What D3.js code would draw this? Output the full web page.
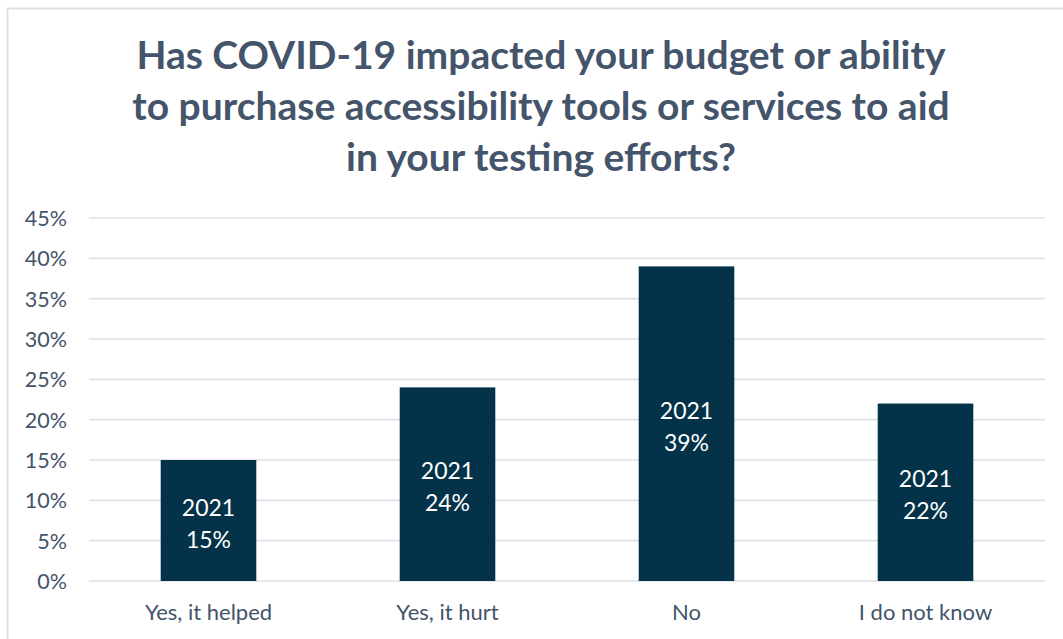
<!DOCTYPE html>
<html>
<head>
<meta charset="utf-8">
<script src="https://cdn.jsdelivr.net/npm/d3@7"></script>
<style>
  html, body { margin: 0; padding: 0; background: #ffffff; }
  svg { display: block; }
</style>
</head>
<body>
<svg id="chart" width="1063" height="639"></svg>
<script>
// Survey responses (share of respondents, 2021)
const categories = ["Yes, it helped", "Yes, it hurt", "No", "I do not know"];
const values2021 = [0.15, 0.24, 0.39, 0.22];
const seriesName = "2021";
const yTicks = [0, 0.05, 0.10, 0.15, 0.20, 0.25, 0.30, 0.35, 0.40, 0.45];
const titleLines = [
  "Has COVID-19 impacted your budget or ability",
  "to purchase accessibility tools or services to aid",
  "in your testing efforts?"
];

const svg = d3.select("#chart");
const W = 1063, H = 639;
const textColor = "#44546A";
const gridColor = "#DDE1E7";
const barColor = "#033249";
const font = "Lato, 'Open Sans', sans-serif";

// chart frame
svg.append("rect")
  .attr("x", 7.5).attr("y", 8.5)
  .attr("width", W + 20).attr("height", H + 20)
  .attr("fill", "#ffffff")
  .attr("stroke", gridColor).attr("stroke-width", 2);

// title
const title = svg.append("text")
  .attr("text-anchor", "middle")
  .attr("font-family", font)
  .attr("font-weight", 700)
  .attr("font-size", 39)
  .attr("fill", textColor);
titleLines.forEach((line, i) => {
  title.append("tspan")
    .attr("x", 541)
    .attr("y", 69 + i * 51)
    .text(line);
});

const plot = { left: 89, right: 1045, top: 218, bottom: 581 };

const x = d3.scaleBand()
  .domain(categories)
  .range([plot.left, plot.right])
  .paddingInner(0.6)
  .paddingOuter(0.3);

const y = d3.scaleLinear()
  .domain([0, 0.45])
  .range([plot.bottom, plot.top]);

// gridlines
svg.append("g")
  .selectAll("line")
  .data(yTicks)
  .join("line")
  .attr("x1", plot.left).attr("x2", plot.right)
  .attr("y1", d => y(d)).attr("y2", d => y(d))
  .attr("stroke", gridColor)
  .attr("stroke-width", 1.6);

// y axis labels
const yAxis = d3.axisLeft(y)
  .tickValues(yTicks)
  .tickFormat(d3.format(".0%"))
  .tickSize(0)
  .tickPadding(22);
const gy = svg.append("g")
  .attr("transform", `translate(${plot.left},0)`)
  .call(yAxis);
gy.select(".domain").remove();
gy.selectAll("text")
  .attr("font-family", font)
  .attr("font-size", 21.5)
  .attr("fill", textColor)
  .attr("dy", "0.35em");

// x axis labels
const xAxis = d3.axisBottom(x).tickSize(0).tickPadding(0);
const gx = svg.append("g")
  .attr("transform", `translate(0,${plot.bottom})`)
  .call(xAxis);
gx.select(".domain").remove();
gx.selectAll("text")
  .attr("font-family", font)
  .attr("font-size", 22)
  .attr("fill", textColor)
  .attr("dy", 0)
  .attr("y", 39);

// bars
const data = categories.map((c, i) => ({ c, v: values2021[i] }));
svg.append("g")
  .selectAll("rect")
  .data(data)
  .join("rect")
  .attr("x", d => x(d.c))
  .attr("width", x.bandwidth())
  .attr("y", d => y(d.v))
  .attr("height", d => y(0) - y(d.v))
  .attr("fill", barColor);

// in-bar labels: series name and value
const labels = svg.append("g")
  .selectAll("text")
  .data(data)
  .join("text")
  .attr("text-anchor", "middle")
  .attr("font-family", font)
  .attr("font-size", 23)
  .attr("fill", "#ffffff");
labels.append("tspan")
  .attr("x", d => x(d.c) + x.bandwidth() / 2)
  .attr("y", d => (y(d.v) + y(0)) / 2 - 5)
  .text(seriesName);
labels.append("tspan")
  .attr("x", d => x(d.c) + x.bandwidth() / 2)
  .attr("y", d => (y(d.v) + y(0)) / 2 + 27)
  .text(d => d3.format(".0%")(d.v));
</script>
</body>
</html>
